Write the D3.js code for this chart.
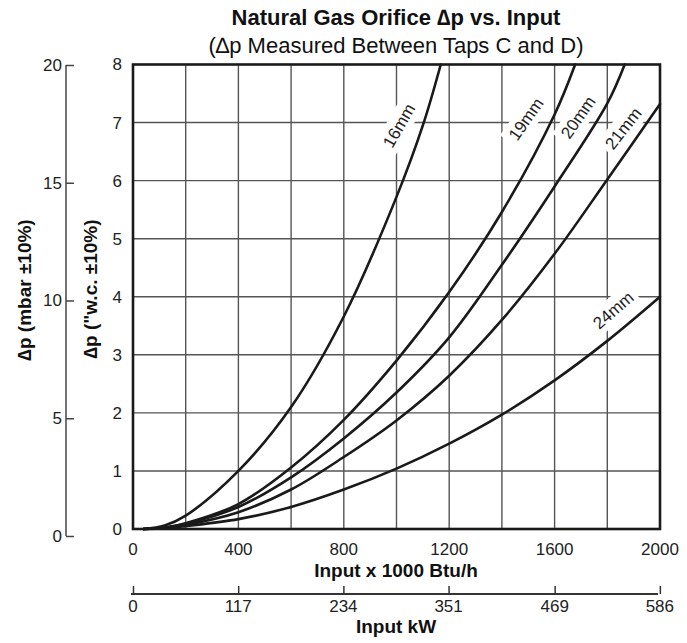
<!DOCTYPE html>
<html>
<head>
<meta charset="utf-8">
<script src="https://cdn.jsdelivr.net/npm/d3@7"></script>
<style>
  html, body { margin: 0; padding: 0; background: #fff; }
  svg { display: block; font-family: "Liberation Sans", Arial, Helvetica, sans-serif; }
</style>
</head>
<body>
<svg id="chart" width="687" height="643"></svg>
<script>
// ---------- data ----------
const orifices = ["16mm", "19mm", "20mm", "21mm", "24mm"];

const input16 = [40, 120, 200, 400, 600, 800, 1000, 1100, 1168];
const dp16    = [0, 0.06, 0.23, 1.0, 2.1, 3.66, 5.72, 6.95, 8.0];

const input19 = [40, 120, 200, 400, 600, 800, 1000, 1200, 1400, 1600, 1678];
const dp19    = [0, 0.025, 0.10, 0.43, 1.06, 1.88, 2.90, 4.08, 5.46, 7.14, 8.0];

const input20 = [40, 120, 200, 400, 600, 800, 1000, 1200, 1400, 1600, 1800, 1866];
const dp20    = [0, 0.022, 0.09, 0.38, 0.89, 1.56, 2.35, 3.30, 4.55, 5.90, 7.33, 8.0];

const input21 = [40, 120, 200, 400, 600, 800, 1000, 1200, 1400, 1600, 1800, 2000];
const dp21    = [0, 0.018, 0.07, 0.29, 0.68, 1.24, 1.87, 2.64, 3.60, 4.74, 6.02, 7.32];

const input24 = [40, 120, 200, 400, 600, 800, 1000, 1200, 1400, 1600, 1800, 2000];
const dp24    = [0, 0.012, 0.05, 0.17, 0.38, 0.68, 1.04, 1.47, 1.97, 2.56, 3.24, 4.0];

const inputTicks = [0, 400, 800, 1200, 1600, 2000];
const wcTicks    = [0, 1, 2, 3, 4, 5, 6, 7, 8];
const mbarTicks  = [0, 5, 10, 15, 20];
const kwTicks    = [0, 117, 234, 351, 469, 586];

// label anchor points (data units) and angles for curve labels
const labelInput = [1009, 1491, 1689, 1860, 1822];
const labelDp    = [6.95, 7.06, 7.09, 6.90, 3.77];
const labelAngle = [-60, -55, -55, -52, -41];

const curves = [
  {name: orifices[0], x: input16, y: dp16},
  {name: orifices[1], x: input19, y: dp19},
  {name: orifices[2], x: input20, y: dp20},
  {name: orifices[3], x: input21, y: dp21},
  {name: orifices[4], x: input24, y: dp24}
];

// ---------- layout ----------
const svg = d3.select("#chart");
const L = 133, R = 660, T = 64.5, B = 529;

const x = d3.scaleLinear().domain([0, 2000]).range([L, R]);
const y = d3.scaleLinear().domain([0, 8]).range([B, T]);
const yMbar = d3.scaleLinear().domain([0, 20]).range([536, 65]);
const xKw = d3.scaleLinear().domain([0, 2000 / 3.412]).range([L, R]);

// ---------- titles ----------
svg.append("text").attr("x", 396).attr("y", 25).attr("text-anchor", "middle")
  .attr("font-size", 22).attr("font-weight", "bold").attr("fill", "#111")
  .text("Natural Gas Orifice \u2206p vs. Input");
svg.append("text").attr("x", 396).attr("y", 53).attr("text-anchor", "middle")
  .attr("font-size", 22).attr("fill", "#111")
  .text("(\u2206p Measured Between Taps C and D)");

// ---------- grid ----------
const grid = svg.append("g");
grid.selectAll("line.v").data(d3.range(200, 2000, 200)).enter().append("line")
  .attr("x1", d => x(d)).attr("x2", d => x(d)).attr("y1", T).attr("y2", B)
  .attr("stroke", "#555").attr("stroke-width", 1.4);
grid.selectAll("line.h").data(d3.range(1, 8)).enter().append("line")
  .attr("x1", L).attr("x2", R).attr("y1", d => y(d)).attr("y2", d => y(d))
  .attr("stroke", "#555").attr("stroke-width", 1.4);

// ---------- label backgrounds (white boxes breaking the grid) ----------
const labelsG = svg.append("g");
curves.forEach((c, i) => {
  const g = labelsG.append("g")
    .attr("transform", `translate(${x(labelInput[i])},${y(labelDp[i])}) rotate(${labelAngle[i]})`);
  g.append("rect").attr("x", -28).attr("y", -12).attr("width", 56).attr("height", 24)
    .attr("fill", "#fff");
  g.append("text").attr("text-anchor", "middle").attr("dy", "0.35em")
    .attr("font-size", 17).attr("fill", "#222").text(c.name);
});

// ---------- curves ----------
const line = d3.line().x(d => x(d[0])).y(d => y(d[1])).curve(d3.curveCatmullRom.alpha(0.5));
svg.append("g").selectAll("path").data(curves).enter().append("path")
  .attr("d", c => line(c.x.map((v, k) => [v, c.y[k]])))
  .attr("fill", "none").attr("stroke", "#1a1a1a").attr("stroke-width", 2.6)
  .attr("stroke-linecap", "round");

// ---------- frame ----------
svg.append("rect").attr("x", L).attr("y", T).attr("width", R - L).attr("height", B - T)
  .attr("fill", "none").attr("stroke", "#1a1a1a").attr("stroke-width", 2.6);

// ---------- left "w.c. axis labels ----------
svg.append("g").selectAll("text").data(wcTicks).enter().append("text")
  .attr("x", 122).attr("y", d => y(d)).attr("dy", "0.35em").attr("text-anchor", "end")
  .attr("font-size", 17).attr("fill", "#222").text(d => d);

// ---------- mbar axis ----------
const mbarAxis = svg.append("g").attr("transform", "translate(66,0)")
  .call(d3.axisRight(yMbar).tickValues(mbarTicks).tickSize(8).tickFormat(""));
mbarAxis.select(".domain").attr("d", `M0,${yMbar(20)}V${yMbar(0)}`)
  .attr("stroke", "#444").attr("stroke-width", 1.5);
mbarAxis.selectAll(".tick line").attr("stroke", "#444").attr("stroke-width", 1.5);
svg.append("g").selectAll("text").data(mbarTicks).enter().append("text")
  .attr("x", 62).attr("y", d => yMbar(d)).attr("dy", "0.35em").attr("text-anchor", "end")
  .attr("font-size", 17).attr("fill", "#222").text(d => d);

// axis titles
svg.append("text").attr("transform", "translate(31,290) rotate(-90)")
  .attr("text-anchor", "middle").attr("font-size", 19).attr("font-weight", "bold")
  .attr("fill", "#111").text("\u2206p (mbar \u00b110%)");
svg.append("text").attr("transform", "translate(97,289) rotate(-90)")
  .attr("text-anchor", "middle").attr("font-size", 19).attr("font-weight", "bold")
  .attr("fill", "#111").text("\u2206p (\"w.c. \u00b110%)");

// ---------- bottom Btu axis labels ----------
svg.append("g").selectAll("text").data(inputTicks).enter().append("text")
  .attr("x", d => x(d)).attr("y", 555).attr("text-anchor", "middle")
  .attr("font-size", 17).attr("fill", "#222").text(d => d);
svg.append("text").attr("x", 396).attr("y", 577).attr("text-anchor", "middle")
  .attr("font-size", 19).attr("font-weight", "bold").attr("fill", "#111")
  .text("Input x 1000 Btu/h");

// ---------- kW axis ----------
const kwAxis = svg.append("g").attr("transform", "translate(0,594)")
  .call(d3.axisTop(xKw).tickValues(kwTicks).tickSize(8).tickFormat(""));
kwAxis.select(".domain").attr("d", `M${L - 2},0H${R - 2}`)
  .attr("stroke", "#333").attr("stroke-width", 2);
kwAxis.selectAll(".tick line").attr("stroke", "#333").attr("stroke-width", 1.5);
svg.append("g").selectAll("text").data(kwTicks).enter().append("text")
  .attr("x", d => xKw(d)).attr("y", 612).attr("text-anchor", "middle")
  .attr("font-size", 17).attr("fill", "#222").text(d => d);
svg.append("text").attr("x", 396).attr("y", 633).attr("text-anchor", "middle")
  .attr("font-size", 19).attr("font-weight", "bold").attr("fill", "#111")
  .text("Input kW");
</script>
</body>
</html>
